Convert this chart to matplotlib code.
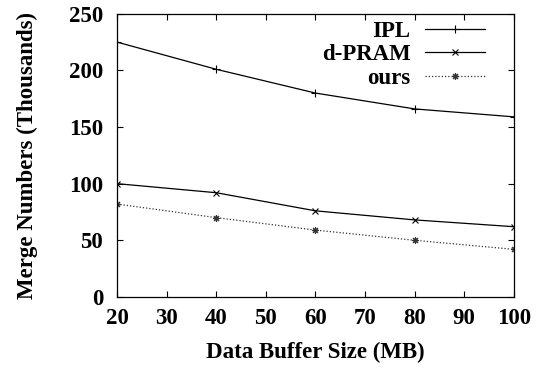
import numpy as np
import matplotlib.pyplot as plt

plt.rcParams['font.family'] = ['Liberation Serif', 'DejaVu Serif']
plt.rcParams['font.weight'] = 'bold'

buffer_mb = [20, 40, 60, 80, 100]
ipl = [225, 201, 180, 166, 159]
dpram = [100, 92, 76, 68, 62]
ours = [82, 70, 59, 50, 42]

fig = plt.figure(figsize=(5.37, 3.73), dpi=100)
ax = fig.add_axes([0.218, 0.204, 0.739, 0.759])

ax.plot(buffer_mb, ipl, color='black', lw=0.9, marker='+', ms=6, mew=0.8, label='IPL')
ax.plot(buffer_mb, dpram, color='black', lw=0.9, marker='x', ms=4.5, mew=0.8, label='d-PRAM')
ax.plot(buffer_mb, ours, color='#333333', lw=0.9, ls=(0, (1, 1.6)), marker=(8, 2, 0),
        ms=5, mew=0.8, label='ours')

ax.set_xlim(20, 100)
ax.set_ylim(0, 250)
ax.set_xticks(np.arange(20, 101, 10))
ax.set_yticks(np.arange(0, 251, 50))
ax.tick_params(direction='in', top=True, right=True, length=4.5, width=0.8,
               labelsize=16.5)
ax.tick_params(axis='x', pad=8)
ax.tick_params(axis='y', pad=10)
for s in ax.spines.values():
    s.set_linewidth(0.9)

ax.set_xlabel('Data Buffer Size (MB)', fontsize=16.5, fontweight='bold', labelpad=9)
ax.set_ylabel('Merge Numbers (Thousands)', fontsize=16.5, fontweight='bold', labelpad=22)

ax.legend(loc='upper right', frameon=False, markerfirst=False, fontsize=16.5,
          handlelength=2.6, handletextpad=0.65, labelspacing=0.1,
          borderaxespad=0, bbox_to_anchor=(0.95, 1.007))

fig.savefig('out.png', dpi=100)
